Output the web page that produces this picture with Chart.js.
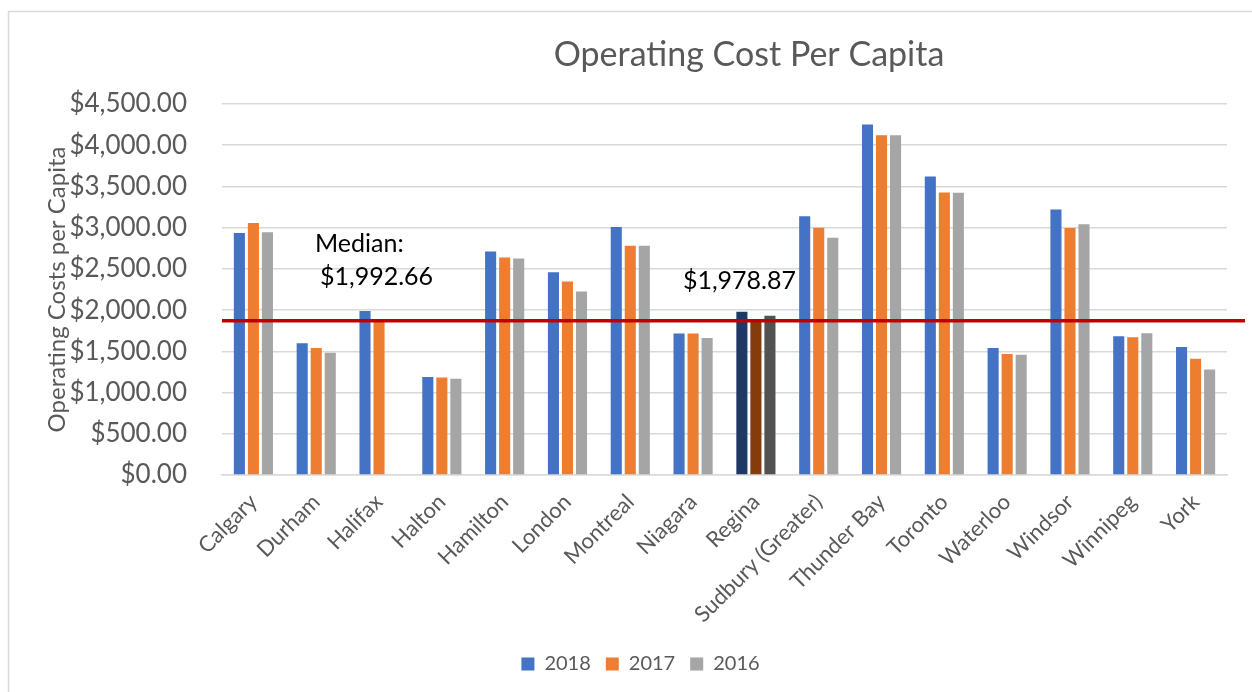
<!DOCTYPE html>
<html>
<head>
<meta charset="utf-8">
<script src="https://cdn.jsdelivr.net/npm/chart.js@4"></script>
<style>
  body { margin: 0; background: #fff; }
</style>
</head>
<body>
<canvas id="myChart" width="1252" height="692"></canvas>
<script>
// City names on the x axis
const cities = ["Calgary", "Durham", "Halifax", "Halton", "Hamilton", "London", "Montreal", "Niagara",
  "Regina", "Sudbury (Greater)", "Thunder Bay", "Toronto", "Waterloo", "Windsor", "Winnipeg", "York"];

// Operating cost per capita
const cost2018 = [2935, 1598, 1989, 1190, 2711, 2458, 3009, 1716, 1979, 3139, 4252, 3620, 1541, 3221, 1684, 1553];
const cost2017 = [3057, 1541, 1870, 1182, 2638, 2348, 2780, 1716, 1870, 3000, 4121, 3428, 1468, 2996, 1671, 1411];
const cost2016 = [2943, 1484, null, 1166, 2625, 2226, 2780, 1663, 1932, 2878, 4121, 3424, 1459, 3041, 1720, 1280];

const medianLine = 1872;
const notes = ["Median:", "$1,992.66", "$1,978.87"];

// Regina is highlighted with darker shades
const highlight = "Regina";
function colorsFor(normal, dark) {
  return cities.map(c => c === highlight ? dark : normal);
}

const font = "Lato, 'Open Sans', sans-serif";
const grey = "#595959";

// frame, title, median line and text boxes
const extras = {
  id: 'extras',
  afterLayout(chart) {
    // legend sits a bit right of the canvas centre in the original
    chart.legend.left += 23;
    chart.legend.right += 23;
  },
  beforeDraw(chart) {
    const c = chart.ctx;
    c.save();
    c.fillStyle = '#fff';
    c.fillRect(0, 0, chart.width, chart.height);
    c.strokeStyle = '#D9D9D9';
    c.lineWidth = 1.5;
    c.beginPath();
    c.moveTo(8.5, chart.height);
    c.lineTo(8.5, 11.5);
    c.lineTo(chart.width, 11.5);
    c.stroke();
    c.restore();
  },
  afterDatasetsDraw(chart) {
    const c = chart.ctx;
    const y = chart.scales.y.getPixelForValue(medianLine);
    c.save();
    c.strokeStyle = '#C00000';
    c.lineWidth = 3.5;
    c.beginPath();
    c.moveTo(chart.chartArea.left, y);
    c.lineTo(chart.width - 7, y);
    c.stroke();
    c.restore();
  },
  afterDraw(chart) {
    const c = chart.ctx;
    const xs = chart.scales.x;
    const top = chart.chartArea.top;
    c.save();
    c.fillStyle = grey;
    c.font = "34px " + font;
    c.textAlign = 'center';
    c.textBaseline = 'middle';
    c.fillText("Operating Cost Per Capita", 749, 55);

    c.fillStyle = '#000';
    c.font = "25px " + font;
    c.textAlign = 'left';
    const halifax = xs.getPixelForValue(2);
    const regina = xs.getPixelForValue(8);
    c.fillText(notes[0], halifax - 64, top + 140);
    c.fillText(notes[1], halifax - 59, top + 173);
    c.fillText(notes[2], regina - 73, top + 177);
    c.restore();
  }
};

const ctx = document.getElementById('myChart').getContext('2d');
new Chart(ctx, {
  type: 'bar',
  data: {
    labels: cities,
    datasets: [
      { label: '2018', data: cost2018, backgroundColor: colorsFor('#4472C4', '#203864') },
      { label: '2017', data: cost2017, backgroundColor: colorsFor('#ED7D31', '#843C0C') },
      { label: '2016', data: cost2016, backgroundColor: colorsFor('#A5A5A5', '#525252') }
    ]
  },
  options: {
    responsive: false,
    animation: false,
    categoryPercentage: 0.67,
    barPercentage: 0.79,
    layout: { padding: { left: 8, top: 104, right: 25, bottom: 8 } },
    scales: {
      x: {
        grid: { display: false },
        border: { color: '#D9D9D9', width: 1.5 },
        ticks: {
          color: grey,
          font: { family: font, size: 22 },
          minRotation: 45,
          maxRotation: 45,
          padding: 6
        },
        afterFit(s) { s.height = 164; }
      },
      y: {
        min: 0,
        max: 4500,
        grid: { color: '#D9D9D9', lineWidth: 1.5, drawTicks: false },
        border: { display: false },
        ticks: {
          stepSize: 500,
          color: grey,
          padding: 35,
          font: { family: font, size: 26 },
          callback: v => '$' + v.toLocaleString('en-US', { minimumFractionDigits: 2, maximumFractionDigits: 2 })
        },
        title: {
          display: true,
          text: 'Operating Costs per Capita',
          color: grey,
          font: { family: font, size: 24 },
          padding: { top: 35, bottom: 0 }
        },
        afterFit(s) { s.width = 214; }
      }
    },
    plugins: {
      legend: {
        position: 'bottom',
        labels: {
          color: grey,
          font: { family: font, size: 20 },
          boxWidth: 13,
          boxHeight: 13,
          padding: 15
        }
      },
      tooltip: { enabled: false }
    }
  },
  plugins: [extras]
});
</script>
</body>
</html>
